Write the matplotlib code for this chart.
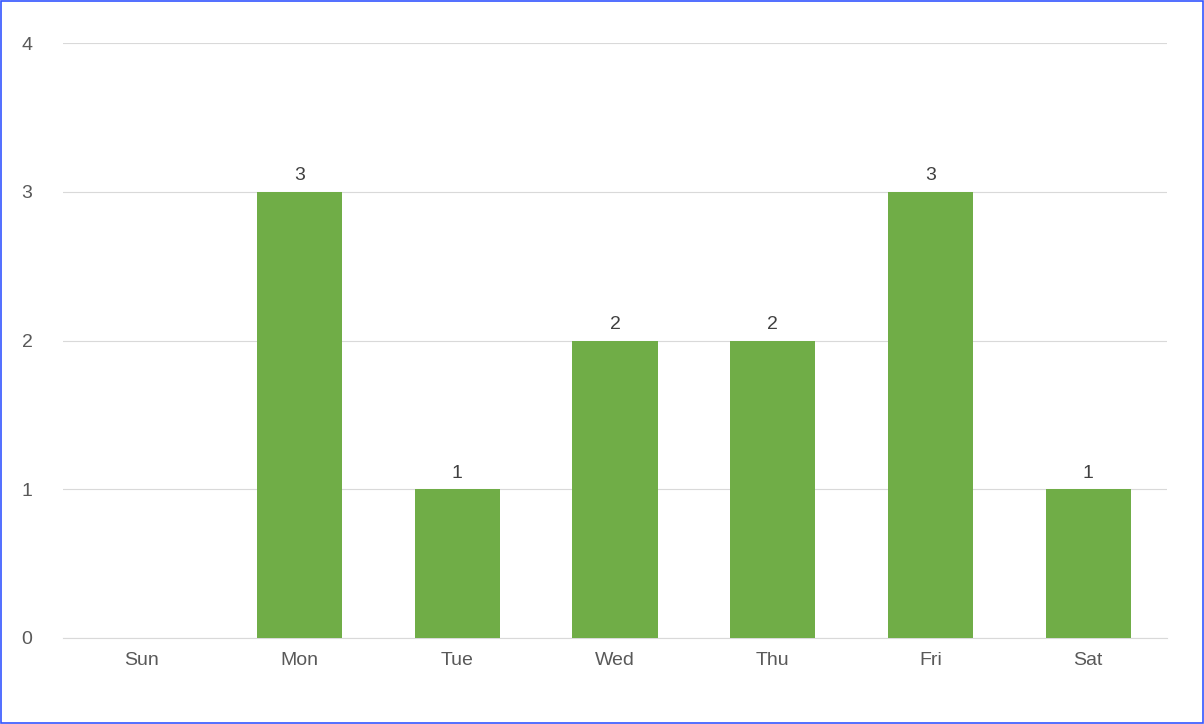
import matplotlib.pyplot as plt
import numpy as np

days = ['Sun', 'Mon', 'Tue', 'Wed', 'Thu', 'Fri', 'Sat']
counts = [0, 3, 1, 2, 2, 3, 1]

plt.rcParams['font.family'] = ['Liberation Sans', 'DejaVu Sans']

fig = plt.figure(figsize=(12.04, 7.24), dpi=100)
ax = fig.add_axes([63 / 1204, 86 / 724, 1104 / 1204, 595 / 724])

x = np.arange(len(days))
bars = ax.bar(x, counts, width=0.54, color='#70AD47', zorder=3)

# value labels, skip zero bars
for xi, v in zip(x, counts):
    if v > 0:
        ax.text(xi, v + 0.05, str(v), ha='center', va='bottom', fontsize=14, color='#404040')

ax.set_xlim(-0.5, len(days) - 0.5)
ax.set_ylim(0, 4)
ax.set_yticks(range(5))
ax.set_xticks(x)
ax.set_xticklabels(days)
ax.tick_params(axis='both', length=0, labelsize=14, colors='#595959')
ax.tick_params(axis='y', pad=22)
ax.tick_params(axis='x', pad=10)
ax.grid(axis='y', color='#D9D9D9', linewidth=0.8, zorder=0)
for s in ['top', 'right', 'left']:
    ax.spines[s].set_visible(False)
ax.spines['bottom'].set_color('#D9D9D9')

# thin blue border around the whole figure
fig.patches.append(plt.Rectangle((0.0005, 0.0007), 0.999, 0.9986, transform=fig.transFigure,
                                 fill=False, edgecolor='#3355FF', linewidth=1.2))

fig.savefig('out.png', dpi=100)
